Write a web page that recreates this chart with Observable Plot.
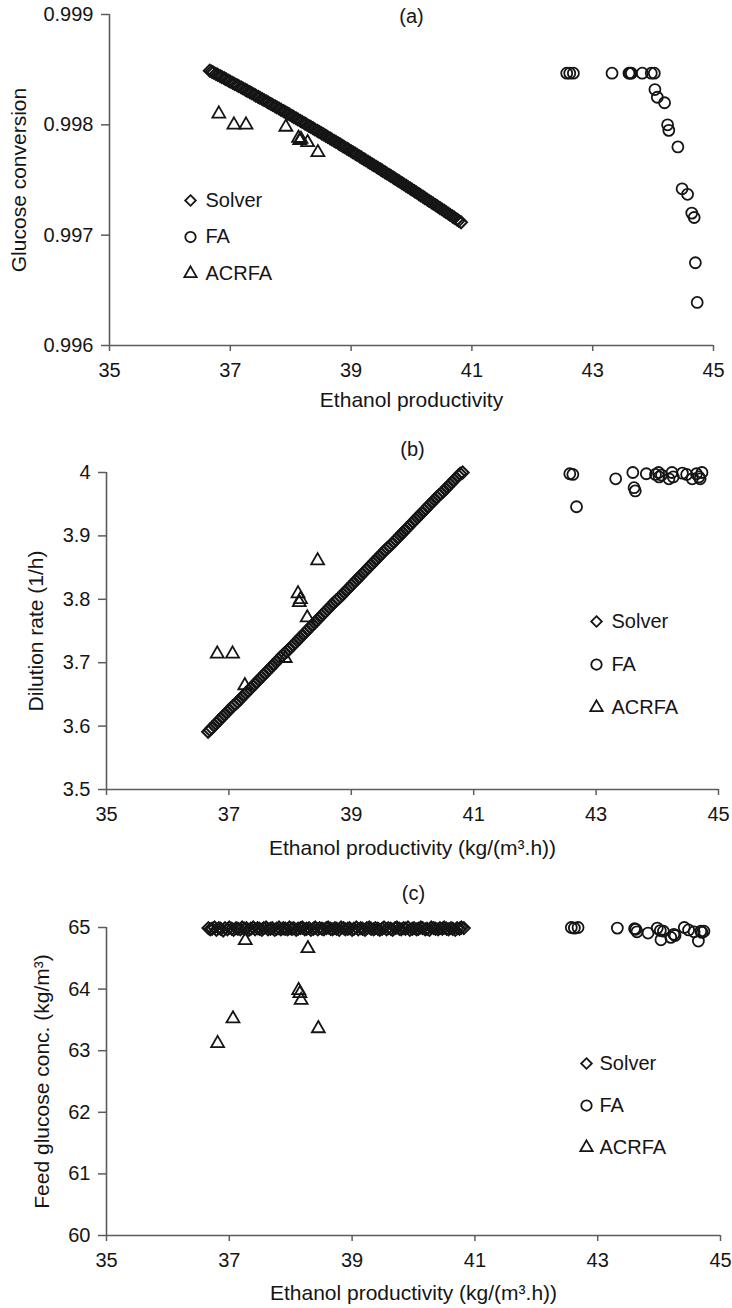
<!DOCTYPE html>
<html>
<head>
<meta charset="utf-8">
<script src="https://cdn.jsdelivr.net/npm/d3@7"></script>
<script src="https://cdn.jsdelivr.net/npm/@observablehq/plot@0.6"></script>
<style>
  html, body { margin: 0; padding: 0; background: #fff; }
  #chart { width: 732px; }
  #chart svg { display: block; }
</style>
</head>
<body>
<div id="chart"></div>
<script>
// Axis ticks
const prodTicks = [35, 37, 39, 41, 43, 45];
const convTicks = [0.996, 0.997, 0.998, 0.999];
const dilTicks = [3.5, 3.6, 3.7, 3.8, 3.9, 4];
const feedTicks = [60, 61, 62, 63, 64, 65];

// Method names shown in each legend
const methods = ["Solver", "FA", "ACRFA"];

// Solver Pareto set: ethanol productivity, glucose conversion, dilution rate, feed glucose
const solverProd = [
  36.66, 36.69, 36.72, 36.76, 36.79, 36.83, 36.86, 36.90, 36.93, 36.97,
  37.00, 37.04, 37.07, 37.11, 37.14, 37.18, 37.21, 37.25, 37.28, 37.32,
  37.35, 37.39, 37.42, 37.46, 37.49, 37.53, 37.56, 37.60, 37.63, 37.67,
  37.70, 37.74, 37.77, 37.81, 37.84, 37.88, 37.91, 37.95, 37.98, 38.02,
  38.05, 38.09, 38.12, 38.16, 38.19, 38.23, 38.26, 38.30, 38.33, 38.37,
  38.40, 38.44, 38.47, 38.51, 38.54, 38.58, 38.61, 38.65, 38.68, 38.72,
  38.75, 38.79, 38.82, 38.86, 38.89, 38.93, 38.96, 39.00, 39.03, 39.07,
  39.10, 39.14, 39.17, 39.21, 39.24, 39.28, 39.31, 39.35, 39.38, 39.42,
  39.45, 39.49, 39.52, 39.56, 39.59, 39.63, 39.66, 39.70, 39.73, 39.77,
  39.80, 39.84, 39.87, 39.91, 39.94, 39.98, 40.01, 40.05, 40.08, 40.12,
  40.15, 40.19, 40.22, 40.26, 40.29, 40.33, 40.36, 40.40, 40.43, 40.47,
  40.50, 40.54, 40.57, 40.61, 40.64, 40.68, 40.71, 40.75, 40.78, 40.82];
const solverConv = [
  0.998491, 0.998483, 0.998474, 0.998462, 0.998454, 0.998442, 0.998433, 0.998422, 0.998413, 0.998401,
  0.998392, 0.998380, 0.998371, 0.998360, 0.998351, 0.998339, 0.998330, 0.998318, 0.998309, 0.998297,
  0.998288, 0.998276, 0.998266, 0.998254, 0.998245, 0.998233, 0.998224, 0.998212, 0.998202, 0.998190,
  0.998181, 0.998168, 0.998159, 0.998147, 0.998137, 0.998125, 0.998116, 0.998103, 0.998094, 0.998081,
  0.998071, 0.998058, 0.998049, 0.998036, 0.998027, 0.998014, 0.998004, 0.997991, 0.997982, 0.997969,
  0.997959, 0.997946, 0.997937, 0.997924, 0.997914, 0.997901, 0.997891, 0.997878, 0.997868, 0.997855,
  0.997845, 0.997832, 0.997822, 0.997808, 0.997798, 0.997785, 0.997775, 0.997761, 0.997751, 0.997738,
  0.997728, 0.997714, 0.997704, 0.997690, 0.997680, 0.997666, 0.997656, 0.997642, 0.997632, 0.997619,
  0.997608, 0.997595, 0.997584, 0.997570, 0.997560, 0.997546, 0.997536, 0.997522, 0.997511, 0.997497,
  0.997487, 0.997473, 0.997462, 0.997448, 0.997437, 0.997423, 0.997412, 0.997398, 0.997388, 0.997373,
  0.997362, 0.997348, 0.997337, 0.997322, 0.997311, 0.997297, 0.997286, 0.997272, 0.997261, 0.997246,
  0.997236, 0.997221, 0.997210, 0.997195, 0.997184, 0.997169, 0.997158, 0.997143, 0.997132, 0.997117];
const solverDil = [
  3.591, 3.594, 3.597, 3.601, 3.604, 3.608, 3.611, 3.615, 3.618, 3.622,
  3.625, 3.629, 3.632, 3.635, 3.638, 3.642, 3.645, 3.649, 3.652, 3.656,
  3.659, 3.663, 3.666, 3.670, 3.673, 3.677, 3.680, 3.684, 3.687, 3.691,
  3.694, 3.698, 3.701, 3.705, 3.708, 3.712, 3.715, 3.718, 3.721, 3.725,
  3.728, 3.732, 3.735, 3.739, 3.742, 3.746, 3.749, 3.753, 3.756, 3.760,
  3.763, 3.767, 3.770, 3.774, 3.777, 3.781, 3.784, 3.788, 3.791, 3.795,
  3.798, 3.801, 3.804, 3.808, 3.811, 3.815, 3.818, 3.822, 3.825, 3.829,
  3.832, 3.836, 3.839, 3.843, 3.846, 3.850, 3.853, 3.857, 3.860, 3.864,
  3.867, 3.871, 3.874, 3.878, 3.881, 3.884, 3.887, 3.891, 3.894, 3.898,
  3.901, 3.905, 3.908, 3.912, 3.915, 3.919, 3.922, 3.926, 3.929, 3.933,
  3.936, 3.940, 3.943, 3.947, 3.950, 3.954, 3.957, 3.961, 3.964, 3.967,
  3.970, 3.974, 3.977, 3.981, 3.984, 3.988, 3.991, 3.995, 3.998, 4.000];
const solverFeed = [
  64.99, 64.97, 64.98, 65.00, 64.96, 64.99, 64.98, 64.95, 64.99, 64.97,
  65.00, 64.98, 64.96, 64.99, 64.98, 64.97, 65.00, 64.98, 64.99, 64.96,
  64.98, 65.00, 64.97, 64.99, 64.98, 64.96, 64.99, 65.00, 64.97, 64.98,
  64.99, 64.96, 64.98, 65.00, 64.97, 64.99, 64.98, 64.97, 65.00, 64.98,
  64.99, 64.96, 64.98, 64.99, 65.00, 64.97, 64.98, 64.99, 64.96, 64.98,
  65.00, 64.97, 64.99, 64.98, 64.97, 64.99, 65.00, 64.98, 64.97, 64.99,
  64.98, 64.96, 65.00, 64.99, 64.97, 64.98, 64.99, 64.96, 64.98, 65.00,
  64.97, 64.99, 64.98, 64.96, 64.99, 65.00, 64.98, 64.97, 64.99, 64.98,
  64.96, 64.98, 65.00, 64.97, 64.99, 64.98, 64.96, 64.99, 65.00, 64.98,
  64.97, 64.99, 64.98, 65.00, 64.96, 64.98, 64.99, 64.97, 64.98, 65.00,
  64.99, 64.97, 64.98, 64.96, 65.00, 64.99, 64.98, 64.97, 64.99, 64.98,
  65.00, 64.98, 64.97, 64.99, 64.98, 64.96, 64.99, 64.98, 65.00, 64.99];

// FA solutions
const faProd = [42.57, 42.62, 42.68, 43.32, 43.60, 43.62, 43.64, 43.82, 43.97, 44.02,
  44.03, 44.07, 44.19, 44.24, 44.26, 44.41, 44.48, 44.57, 44.64, 44.68,
  44.70, 44.73];
const faConv = [0.998468, 0.998468, 0.998468, 0.998468, 0.998468, 0.998468, 0.998468, 0.998468, 0.998468, 0.998468,
  0.99832, 0.99825, 0.99820, 0.99800, 0.99795, 0.99780, 0.99742, 0.99737, 0.99720, 0.99716,
  0.99675, 0.99639];
const faDil = [3.998, 3.997, 3.946, 3.990, 4.000, 3.976, 3.971, 3.998, 3.997, 4.000,
  3.993, 3.996, 3.990, 4.000, 3.993, 3.999, 3.997, 3.990, 3.998, 3.993,
  3.990, 4.000];
const faFeed = [65.00, 64.99, 65.00, 64.99, 64.98, 64.97, 64.93, 64.91, 64.99, 64.95,
  64.80, 64.94, 64.84, 64.89, 64.87, 65.00, 64.96, 64.93, 64.78, 64.94,
  64.92, 64.94];

// ACRFA solutions
const acrfaProd = [36.81, 37.06, 37.26, 37.92, 38.13, 38.15, 38.17, 38.28, 38.45];
const acrfaConv = [0.99810, 0.99800, 0.99800, 0.99798, 0.99788, 0.99786, 0.99787, 0.99784, 0.99775];
const acrfaDil = [3.714, 3.714, 3.664, 3.707, 3.809, 3.795, 3.800, 3.771, 3.861];
const acrfaFeed = [63.12, 63.52, 64.79, 64.95, 63.98, 63.93, 63.82, 64.66, 63.36];

const solver = solverProd.map((p, i) => ({prod: p, conv: solverConv[i], dil: solverDil[i], feed: solverFeed[i]}));
const fa = faProd.map((p, i) => ({prod: p, conv: faConv[i], dil: faDil[i], feed: faFeed[i]}));
const acrfa = acrfaProd.map((p, i) => ({prod: p, conv: acrfaConv[i], dil: acrfaDil[i], feed: acrfaFeed[i]}));

const font = '"Liberation Sans", Arial, Helvetica, sans-serif';
const ink = "#151515";
const axisInk = "#5c5c5c";
const fs = 20;       // tick labels and legend
const fsTitle = 21;  // axis titles

const markerStyle = {
  Solver: {symbol: "diamond2", r: 5.4, strokeWidth: 2},
  FA: {symbol: "circle", r: 5.5, strokeWidth: 1.8},
  ACRFA: {symbol: "triangle", r: 4.8, strokeWidth: 1.8}
};

function panel(o) {
  const legendMarks = methods.flatMap((m, i) => [
    Plot.dot([m], {
      frameAnchor: "top-left", dx: o.legend.dx, dy: o.legend.dy + i * o.legend.step,
      symbol: markerStyle[m].symbol, r: m === "Solver" ? 4.8 : markerStyle[m].r * 0.95,
      stroke: ink, fill: "none", strokeWidth: 1.8
    }),
    Plot.text([m], {
      text: d => d, frameAnchor: "top-left", dx: o.legend.textDx, dy: o.legend.dy + i * o.legend.step,
      textAnchor: "start", lineAnchor: "middle", fill: ink, fontSize: fs
    })
  ]);
  const series = (data, m) => Plot.dot(data, {
    x: "prod", y: o.y, symbol: markerStyle[m].symbol, r: markerStyle[m].r,
    stroke: ink, fill: "none", strokeWidth: markerStyle[m].strokeWidth
  });
  return Plot.plot({
    width: 732,
    height: o.height,
    marginTop: o.margin[0], marginRight: o.margin[1], marginBottom: o.margin[2], marginLeft: o.margin[3],
    style: {fontFamily: font, fontSize: fs + "px", color: ink, background: "#fff"},
    x: {domain: [prodTicks[0], prodTicks[prodTicks.length - 1]]},
    y: {domain: [o.yTicks[0], o.yTicks[o.yTicks.length - 1]]},
    marks: [
      Plot.ruleY([o.yTicks[0]], {stroke: axisInk, strokeWidth: 1.6}),
      Plot.ruleX([prodTicks[0]], {stroke: axisInk, strokeWidth: 1.6}),
      Plot.axisX({ticks: prodTicks, tickSize: 6, tickPadding: 11, label: null,
        stroke: axisInk, fill: ink, strokeWidth: 1.5, fontSize: fs}),
      Plot.axisY({ticks: o.yTicks, tickSize: 8, tickPadding: 8, tickFormat: o.yFormat, label: null,
        stroke: axisInk, fill: ink, strokeWidth: 1.5, fontSize: fs}),
      Plot.text([o.xLabel], {text: d => d, frameAnchor: "bottom", dy: o.xLabelDy,
        textAnchor: "middle", lineAnchor: "middle", fill: ink, fontSize: fsTitle}),
      Plot.text([o.yLabel], {text: d => d, frameAnchor: "left", dx: o.yLabelDx, rotate: -90,
        textAnchor: "middle", lineAnchor: "middle", fill: ink, fontSize: fsTitle}),
      Plot.text([o.tag], {text: d => d, frameAnchor: "top", dy: o.tagDy,
        textAnchor: "middle", lineAnchor: "middle", fill: ink, fontSize: fs}),
      series(acrfa, "ACRFA"),
      series(fa, "FA"),
      series(solver, "Solver"),
      ...legendMarks
    ]
  });
}

const chart = document.getElementById("chart");

chart.append(panel({
  height: 415, margin: [14, 19, 70, 109],
  y: "conv", yTicks: convTicks, yFormat: d3.format(".3f"),
  xLabel: "Ethanol productivity", xLabelDy: 55,
  yLabel: "Glucose conversion", yLabelDx: -90,
  tag: "(a)", tagDy: 2,
  legend: {dx: 81, dy: 186, textDx: 96, step: 36.5}
}));

chart.append(panel({
  height: 445, margin: [57, 14, 71, 106],
  y: "dil", yTicks: dilTicks, yFormat: d => String(d),
  xLabel: "Ethanol productivity (kg/(m³.h))", xLabelDy: 59,
  yLabel: "Dilution rate (1/h)", yLabelDx: -70,
  tag: "(b)", tagDy: -23,
  legend: {dx: 490, dy: 149, textDx: 505, step: 43}
}));

chart.append(panel({
  height: 448, margin: [67, 12, 73, 106],
  y: "feed", yTicks: feedTicks, yFormat: d => String(d),
  xLabel: "Ethanol productivity (kg/(m³.h))", xLabelDy: 58,
  yLabel: "Feed glucose conc. (kg/m³)", yLabelDx: -64,
  tag: "(c)", tagDy: -34,
  legend: {dx: 480, dy: 136, textDx: 493, step: 42}
}));
</script>
</body>
</html>
